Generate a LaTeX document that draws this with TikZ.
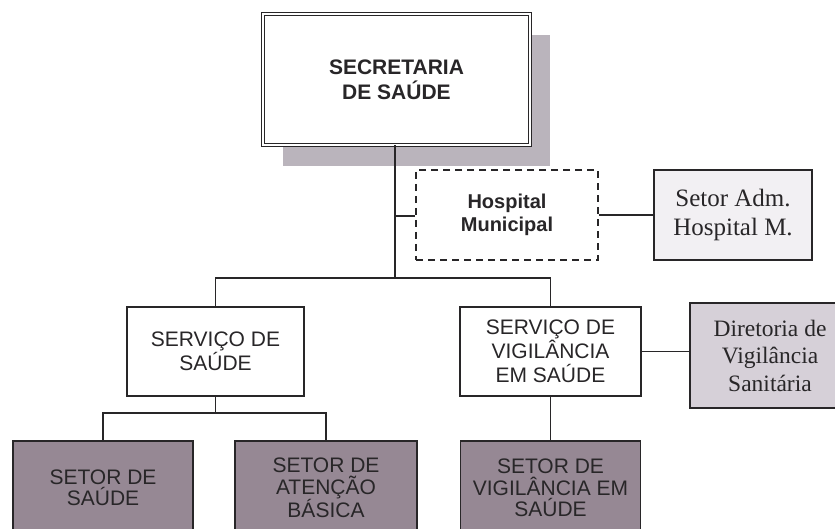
\documentclass[tikz,border=0pt]{standalone}
\usepackage{fontspec}
\setmainfont{Liberation Sans}
\newfontfamily\serifface{Liberation Serif}
\usetikzlibrary{shadows}
\definecolor{inkc}{RGB}{40,38,40}
\definecolor{shadowc}{RGB}{186,180,188}
\definecolor{darkfill}{RGB}{150,136,148}
\definecolor{midfill}{RGB}{214,208,216}
\definecolor{lightfill}{RGB}{242,240,243}
\tikzset{
  box/.style={draw=inkc, line width=1.6pt, rectangle, align=center, text=inkc, inner sep=2pt},
  sansbig/.style={font=\fontsize{21}{24}\selectfont},
  sansbold/.style={font=\bfseries\fontsize{20}{23}\selectfont},
  serifbig/.style={font=\serifface\fontsize{23.5}{27.5}\selectfont},
  setorbox/.style={box, fill=darkfill, minimum width=180pt, minimum height=94pt, font=\fontsize{21}{21.5}\selectfont},
  link/.style={draw=inkc, line width=1.4pt},
  topbox/.style={draw=inkc, fill=white, line width=0.9pt, double=white, double distance=2.2pt, align=center, text=inkc,
    general shadow={fill=shadowc, shadow xshift=20pt, shadow yshift=-21pt}},
}
\begin{document}
\begin{tikzpicture}[x=1pt,y=-1pt]
\useasboundingbox (0,0) rectangle (835,529);
\clip (0,0) rectangle (835,529);
\fill[white] (0,0) rectangle (835,529);
% top
\node[topbox, font=\bfseries\fontsize{21}{25}\selectfont, minimum width=267pt, minimum height=131pt] (sec) at (396.5,79.5) {SECRETARIA\\DE SAÚDE};
% hospital row
\node[box, sansbold, dashed, dash pattern=on 7pt off 5pt, line width=1.8pt, minimum width=182pt, minimum height=90pt] (hosp) at (507,215) {Hospital\\Municipal};
\node[box, serifbig, font=\serifface\fontsize{25}{29}\selectfont, fill=lightfill, minimum width=158pt, minimum height=90pt] (adm) at (733,215) {Setor Adm.\\Hospital M.};
% services
\node[box, sansbig, minimum width=177pt, minimum height=89pt] (serv) at (215.5,351.5) {SERVIÇO DE\\SAÚDE};
\node[box, sansbig, minimum width=181pt, minimum height=89pt] (vig) at (550.5,351.5) {SERVIÇO DE\\VIGILÂNCIA\\EM SAÚDE};
\node[box, serifbig, fill=midfill, minimum width=160pt, minimum height=105pt, line width=2pt] (dir) at (770,355.5) {Diretoria de\\Vigilância\\Sanitária};
% setores
\node[setorbox] (s1) at (103,488) {SETOR DE\\SAÚDE};
\node[setorbox, minimum width=182pt] (s2) at (326,488) {SETOR DE\\ATENÇÃO\\BÁSICA};
\node[setorbox] (s3) at (550.5,488) {SETOR DE\\VIGILÂNCIA EM\\SAÚDE};
% coordinates
\coordinate (top) at (sec.south -| 395,0);
\coordinate (hb) at (395,216);
\coordinate (bus) at (395,278);
\coordinate (low) at (215.5,413);
% connectors
\draw[link] (top) -- (bus);
\draw[link] (hb) -- (hb -| hosp.west);
\draw[link] (hosp.east) -- (adm.west);
\draw[link] (serv.north) |- (bus) -| (vig.north);
\draw[link] (vig.east) -- (vig.east -| dir.west);
\draw[link] (serv.south) -- (low);
\draw[link] (s1.north) |- (low) -| (s2.north);
\draw[link] (vig.south) -- (s3.north);
\end{tikzpicture}
\end{document}
